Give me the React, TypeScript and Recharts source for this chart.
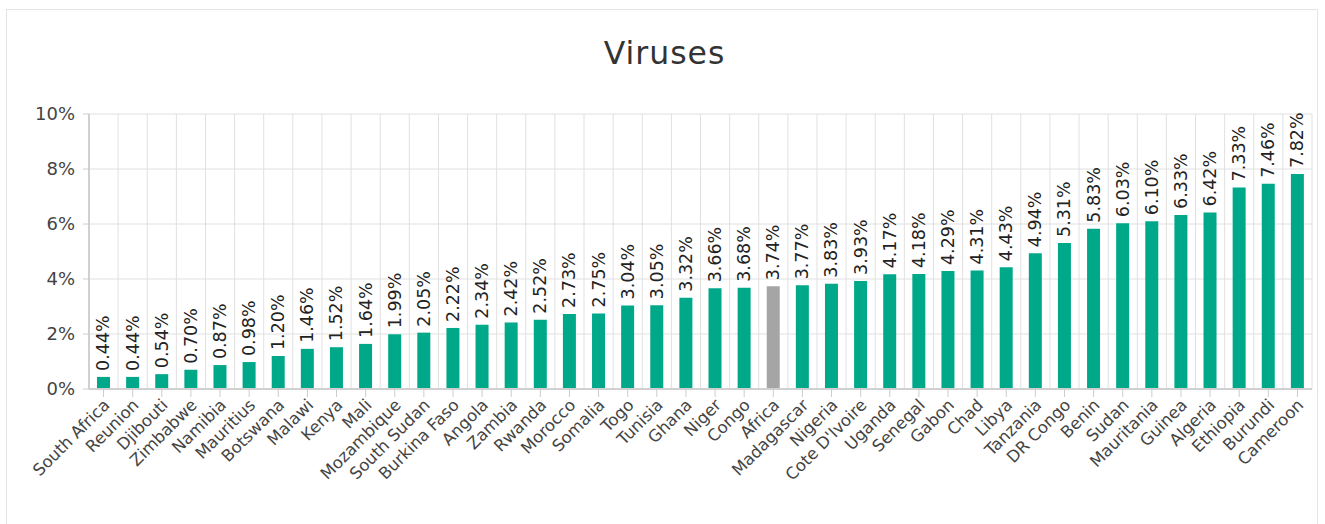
import { BarChart, Bar, XAxis, YAxis, CartesianGrid, Cell, LabelList } from "recharts";

const countries = [
  "South Africa", "Reunion", "Djibouti", "Zimbabwe", "Namibia", "Mauritius", "Botswana",
  "Malawi", "Kenya", "Mali", "Mozambique", "South Sudan", "Burkina Faso", "Angola",
  "Zambia", "Rwanda", "Morocco", "Somalia", "Togo", "Tunisia", "Ghana", "Niger", "Congo",
  "Africa", "Madagascar", "Nigeria", "Cote D'Ivoire", "Uganda", "Senegal", "Gabon", "Chad",
  "Libya", "Tanzania", "DR Congo", "Benin", "Sudan", "Mauritania", "Guinea", "Algeria",
  "Ethiopia", "Burundi", "Cameroon",
];

const shares = [
  0.44, 0.44, 0.54, 0.7, 0.87, 0.98, 1.2, 1.46, 1.52, 1.64, 1.99, 2.05, 2.22, 2.34, 2.42,
  2.52, 2.73, 2.75, 3.04, 3.05, 3.32, 3.66, 3.68, 3.74, 3.77, 3.83, 3.93, 4.17, 4.18, 4.29,
  4.31, 4.43, 4.94, 5.31, 5.83, 6.03, 6.1, 6.33, 6.42, 7.33, 7.46, 7.82,
];

const yTicks = [0, 2, 4, 6, 8, 10];

const data = countries.map((name, i) => ({ name, value: shares[i] }));

const FONT = "'DejaVu Sans', sans-serif";
const GREEN = "#00a88a";
const GREY = "#a5a5a5";

// country names slanted at 45°, ending under each tick
function CountryTick(props: any) {
  const { x, y, payload } = props;
  return (
    <g transform={`translate(${x},${y})`}>
      <text
        x={0}
        y={0}
        dy={10}
        textAnchor="end"
        transform="rotate(-45)"
        fontSize={16.5}
        fontFamily={FONT}
        fill="#444"
      >
        {payload.value}
      </text>
    </g>
  );
}

// vertical percentage label sitting on top of each bar
function ValueLabel(props: any) {
  const { x, y, width, value } = props;
  const cx = Number(x) + Number(width) / 2;
  const ty = Number(y) - 6;
  return (
    <text
      x={cx}
      y={ty}
      transform={`rotate(-90 ${cx} ${ty})`}
      textAnchor="start"
      dominantBaseline="central"
      fontSize={17.5}
      fontFamily={FONT}
      fill="#222"
    >
      {Number(value).toFixed(2)}%
    </text>
  );
}

export default function App() {
  const n = data.length;
  return (
    <div style={{ position: "absolute", left: 0, top: 0, width: 1325, height: 524, background: "#fff", overflow: "hidden" }}>
      <div
        style={{
          position: "absolute",
          left: 6,
          top: 9,
          width: 1312,
          height: 540,
          border: "1px solid #e4e4e4",
          boxSizing: "border-box",
        }}
      />
      <div
        style={{
          position: "absolute",
          left: 0,
          top: 35,
          width: 1329,
          textAlign: "center",
          fontFamily: FONT,
          fontSize: 31.5,
          letterSpacing: 1,
          color: "#333",
        }}
      >
        Viruses
      </div>
      <div style={{ position: "absolute", left: 0, top: 0 }}>
        <BarChart
          width={1325}
          height={524}
          data={data}
          margin={{ top: 114, right: 13, bottom: 0, left: 29 }}
          barCategoryGap={0}
        >
          <CartesianGrid
            stroke="#e0e0e0"
            horizontal={true}
            vertical={true}
            verticalCoordinatesGenerator={({ offset }: any) =>
              Array.from({ length: n + 1 }, (_, i) => offset.left + (i * offset.width) / n)
            }
          />
          <XAxis
            dataKey="name"
            interval={0}
            height={135}
            tick={<CountryTick />}
            tickSize={8}
            tickLine={{ stroke: "#ccc" }}
            axisLine={{ stroke: "#d0d0d0", strokeWidth: 2 }}
          />
          <YAxis
            domain={[0, 10]}
            ticks={yTicks}
            width={60}
            tickFormatter={(v: number) => `${v}%`}
            tick={{ fontSize: 18, fontFamily: FONT, fill: "#444" }}
            tickSize={6}
            tickMargin={8}
            tickLine={{ stroke: "#ccc" }}
            axisLine={{ stroke: "#d0d0d0", strokeWidth: 2 }}
          />
          <Bar dataKey="value" barSize={13} isAnimationActive={false}>
            {data.map((d) => (
              <Cell key={d.name} fill={d.name === "Africa" ? GREY : GREEN} />
            ))}
            <LabelList dataKey="value" content={<ValueLabel />} />
          </Bar>
        </BarChart>
      </div>
    </div>
  );
}
